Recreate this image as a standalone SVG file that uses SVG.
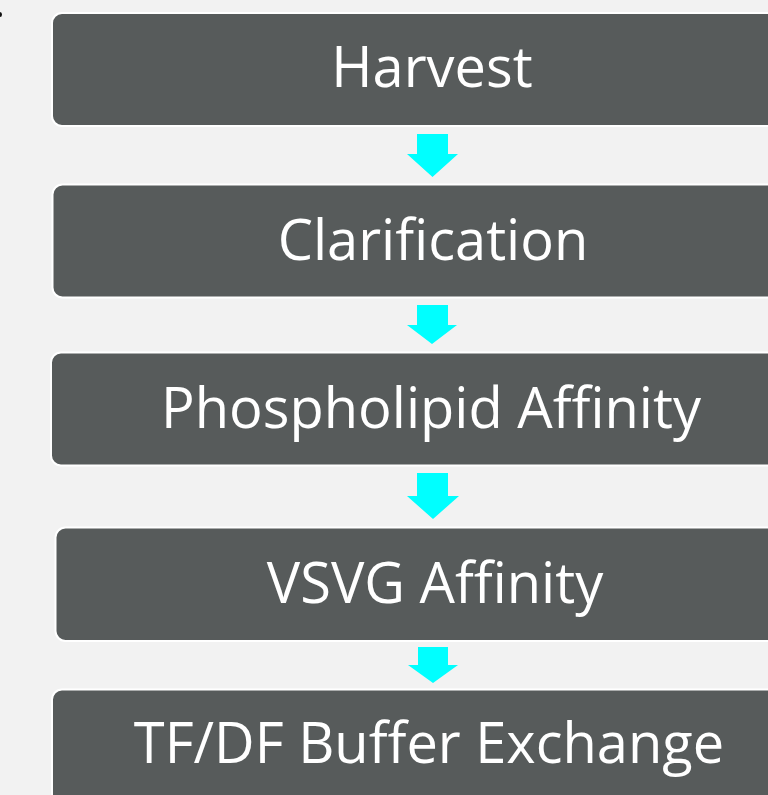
<svg xmlns="http://www.w3.org/2000/svg" width="768" height="795" viewBox="0 0 768 795">
<style>
.box{fill:#575b5b;stroke:#ffffff;stroke-width:2}
.lbl{font-family:"Open Sans","Noto Sans",sans-serif;font-size:56px;fill:#ffffff;text-anchor:middle}
.arr{fill:#00ffff}
</style>
<rect width="768" height="795" fill="#f2f2f2"/>
<ellipse cx="0" cy="14.5" rx="2" ry="2.5" fill="#111"/>
<g id="connectors">
<polygon class="arr" points="417,134 448,134 448,154 458,154 432.5,177 407,154 417,154"/>
<polygon class="arr" points="417,305 448,305 448,325 457,325 432,344 407,325 417,325"/>
<polygon class="arr" points="417,473 448,473 448,496 459,496 433,519 407,496 417,496"/>
<polygon class="arr" points="418,647 448,647 448,665 458,665 433,683 408,665 418,665"/>
</g>
<g id="harvest"><rect class="box" x="52" y="13" width="760" height="113" rx="10"/><text class="lbl" x="432" y="87">Harvest</text></g>
<g id="clarification"><rect class="box" x="52.5" y="184.5" width="760" height="113" rx="10"/><text class="lbl" x="433" y="260">Clarification</text></g>
<g id="phospholipid"><rect class="box" x="51" y="352.5" width="760" height="113" rx="10"/><text class="lbl" x="431" y="428">Phospholipid Affinity</text></g>
<g id="vsvg"><rect class="box" x="55.5" y="527.5" width="760" height="113.5" rx="10"/><text class="lbl" x="435" y="603">VSVG Affinity</text></g>
<g id="tfdf"><rect class="box" x="52" y="689.5" width="760" height="120" rx="10"/><text class="lbl" x="429" y="763">TF/DF Buffer Exchange</text></g>
</svg>
